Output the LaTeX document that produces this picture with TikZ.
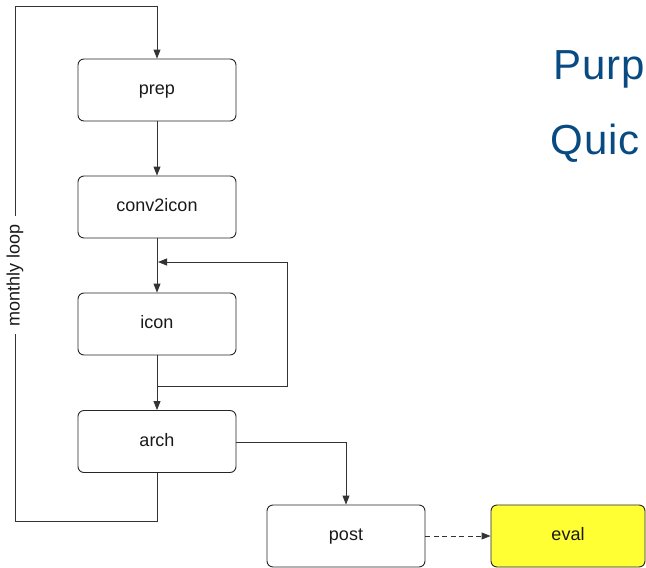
\documentclass[tikz,border=0pt]{standalone}
\usepackage{fontspec}
\setmainfont{Liberation Sans}
\usetikzlibrary{arrows.meta}
\definecolor{titleblue}{RGB}{8,74,130}
\definecolor{evalyellow}{RGB}{255,255,51}
\tikzset{
  stepbox/.style={draw=black!85, line width=0.9pt, rounded corners=6pt, minimum width=158pt, minimum height=62pt, inner sep=0pt, text height=12pt, text depth=3pt, font=\fontsize{18}{20}\selectfont, text=black!90},
  conn/.style={draw=black!80, line width=0.9pt, -{Triangle[length=9pt,width=7pt]}},
  plain/.style={draw=black!80, line width=0.9pt},
  looplabel/.style={rotate=90, fill=white, inner xsep=8pt, inner ysep=1pt, font=\fontsize{18}{20}\selectfont, text=black!90},
  titletext/.style={anchor=base west, inner sep=0pt, text=titleblue, font=\fontsize{42}{46}\selectfont\addfontfeatures{LetterSpace=2}}
}
\begin{document}
\begin{tikzpicture}[x=1pt,y=-1pt]
\useasboundingbox (0,0) rectangle (646,568);

\node[stepbox] (prep) at (157,90) {prep};
\node[stepbox] (conv) at (157,207) {conv2icon};
\node[stepbox] (icon) at (157,324) {icon};
\node[stepbox] (arch) at (157,441.5) {arch};
\node[stepbox] (post) at (346,536) {post};
\node[stepbox, fill=evalyellow, minimum width=154pt] (eval) at (568,536) {eval};

\node[titletext] (t1) at (553.5,79) {Purp};
\node[titletext] (t2) at (550.5,154.5) {Quic};

\coordinate (fbstart) at (157,386);
\coordinate (fbend) at (157,262);
\coordinate (fbr1) at (287,386);
\coordinate (fbr2) at (287,262);
\coordinate (l1) at (157,521);
\coordinate (l2) at (15,521);
\coordinate (l3) at (15,6);
\coordinate (l4) at (157,6);
\coordinate (ap) at (346,442);

\draw[conn] (prep) -- (conv);
\draw[conn] (conv) -- (icon);
\draw[conn] (icon) -- (arch);
\draw[plain] (fbstart) -- (fbr1) -- (fbr2);
\draw[conn] (fbr2) -- ([xshift=1pt]fbend);
\draw[conn] (arch.east |- ap) -- (ap) -- (post.north);
\draw[conn, dash pattern=on 5pt off 3.5pt] (post) -- (eval);
\draw[plain] (arch.south) -- (l1) -- (l2) -- (l3) -- (l4);
\draw[conn] (l4) -- (prep.north);
\node[looplabel] (lbl) at (15,275) {monthly loop};
\end{tikzpicture}
\end{document}
